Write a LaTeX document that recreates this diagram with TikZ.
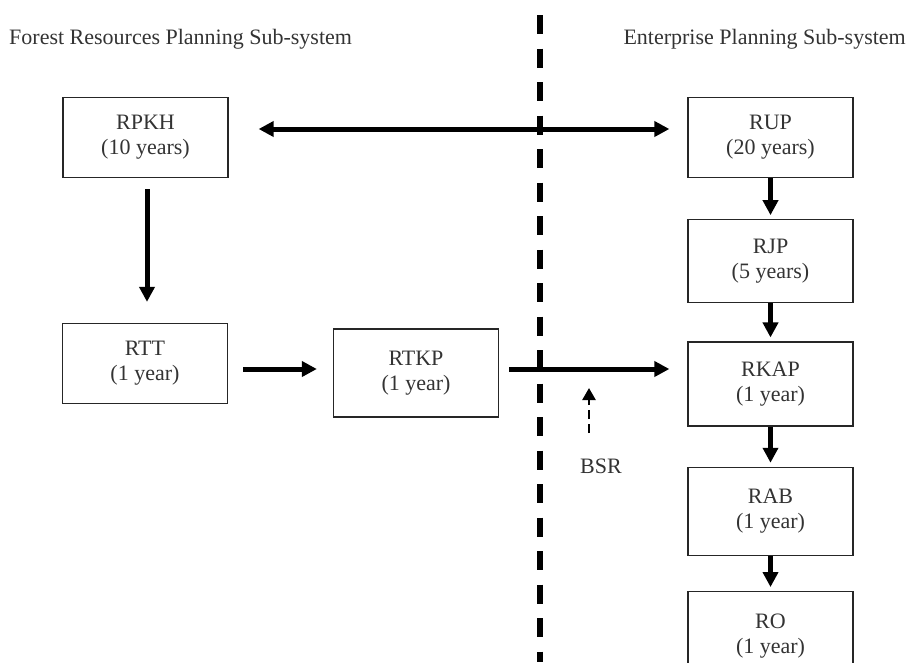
\documentclass[tikz,border=0pt]{standalone}
\usepackage{fontspec}
\setmainfont{Liberation Serif}
\usetikzlibrary{arrows.meta,positioning}

\tikzset{
  plan/.style={draw=black!85,line width=1.3pt,minimum width=165pt,minimum height=80pt,
    align=center,inner sep=0pt,text=black!80,font=\fontsize{22}{25}\selectfont},
  title/.style={text=black!80,inner sep=0pt,font=\fontsize{22}{25}\selectfont},
  flow/.style={line width=5pt,-{Triangle[length=15pt,width=15pt]}},
  both/.style={line width=5pt,{Triangle[length=15pt,width=15pt]}-{Triangle[length=15pt,width=15pt]}},
  hint/.style={line width=2.5pt,dash pattern=on 9pt off 5pt,-{Triangle[length=12pt,width=13pt]}},
  divider/.style={line width=6pt,dash pattern=on 19pt off 14.5pt}
}

\begin{document}
\begin{tikzpicture}[x=1pt,y=-1pt]
\useasboundingbox (0,0) rectangle (907,662);

% sub-system titles
\node[title,anchor=base west] (forest) at (9,44) {Forest Resources Planning Sub-system};
\node[title,anchor=base east] (enterprise) at (906,44) {Enterprise Planning Sub-system};

% forest resources side
\node[plan] (RPKH) at (145.5,137.5) {RPKH\\(10 years)};
\node[plan] (RTT) at (145,363.5) {RTT\\(1 year)};
\node[plan,minimum height=88pt] (RTKP) at (416,373) {RTKP\\(1 year)};

% enterprise side
\node[plan] (RUP) at (770.5,137.5) {RUP\\(20 years)};
\node[plan,minimum height=83pt,below=41pt of RUP] (RJP) {RJP\\(5 years)};
\node[plan,minimum height=84pt,below=38pt of RJP] (RKAP) {RKAP\\(1 year)};
\node[plan,minimum height=88pt,below=40pt of RKAP] (RAB) {RAB\\(1 year)};
\node[plan,minimum height=88pt,below=35pt of RAB] (RO) {RO\\(1 year)};

% boundary between the two sub-systems
\coordinate (divtop) at (540,15);
\coordinate (divbot) at (540,662);
\draw[divider] (divtop) -- (divbot);

% links
\coordinate (rpkhout) at ([xshift=30pt,yshift=8.5pt]RPKH.east);
\coordinate (rupin) at ([xshift=-18pt]RUP.west);
\draw[both] (rpkhout) -- (rpkhout -| rupin);
\draw[flow] ([xshift=1.5pt,yshift=-11pt]RPKH.south) -- ([xshift=2pt,yshift=21pt]RTT.north);
\coordinate (rttout) at ([xshift=15pt,yshift=-5.5pt]RTT.east);
\coordinate (rtkpin) at ([xshift=-16pt]RTKP.west);
\draw[flow] (rttout) -- (rttout -| rtkpin);
\coordinate (rtkpout) at ([xshift=10pt,yshift=4pt]RTKP.east);
\coordinate (rkapin) at ([xshift=-18pt]RKAP.west);
\draw[flow] (rtkpout) -- (rtkpout -| rkapin);

\foreach \from/\to in {RUP/RJP, RJP/RKAP, RKAP/RAB, RAB/RO} {
  \draw[flow] (\from.south) -- ([yshift=4pt]\to.north);
}

% BSR input
\node[title,anchor=base] (BSR) at (601,473) {BSR};
\coordinate (bsrtip) at (589,388);
\draw[hint] ([yshift=25pt]BSR.north -| bsrtip) -- (bsrtip);
\end{tikzpicture}
\end{document}
